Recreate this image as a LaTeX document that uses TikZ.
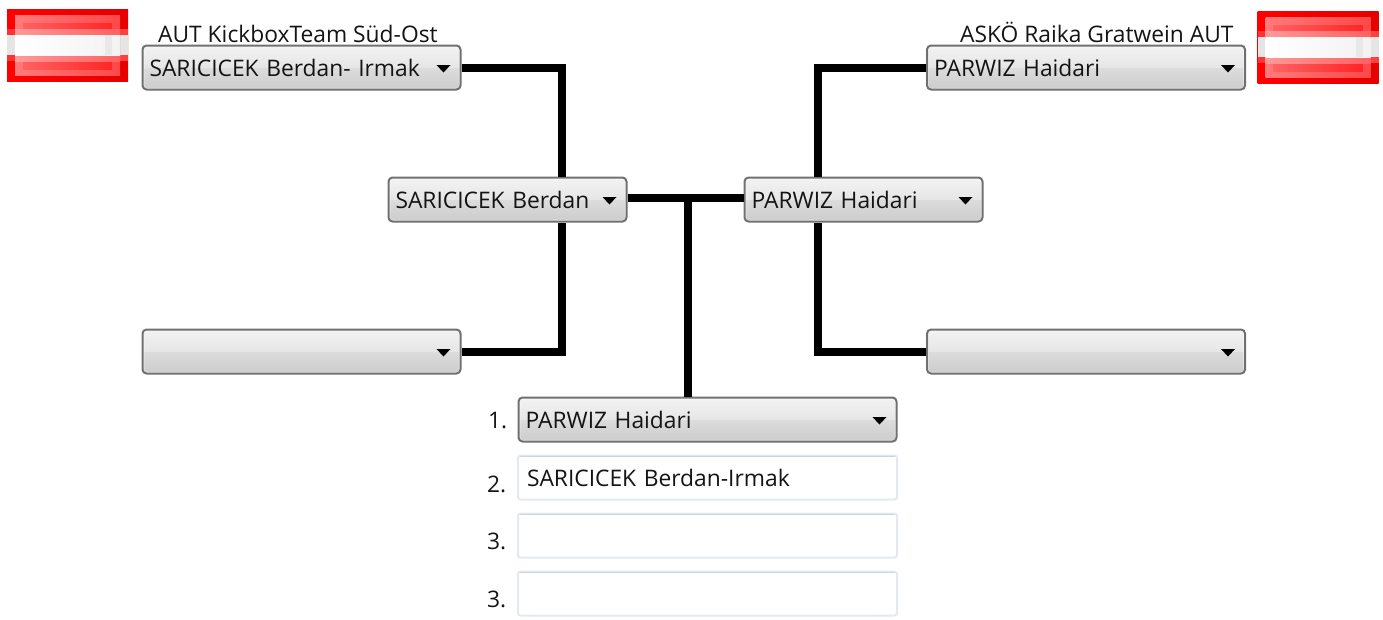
\documentclass[tikz,border=0pt]{standalone}
\usepackage{fontspec}
\setmainfont{Open Sans}
\definecolor{cba}{HTML}{CCCCCC}
\definecolor{cbb}{HTML}{DCDCDC}
\definecolor{cbc}{HTML}{E6E6E6}
\definecolor{cbd}{HTML}{F3F3F3}
\definecolor{edgeside}{HTML}{E3E9EF}
\definecolor{edgetop}{HTML}{ABADB3}
\pgfdeclareverticalshading{comboshade}{100bp}{color(0bp)=(cba); color(25bp)=(cba); color(49.9bp)=(cbb); color(50bp)=(cbc); color(75bp)=(cbd); color(100bp)=(cbd)}
\tikzset{
  every node/.style={font=\fontsize{22.8}{27}\selectfont, text=black!92},
  combo/.style={draw=black!56, line width=2pt, rounded corners=4pt, shading=comboshade,
    inner sep=0pt, minimum height=44pt, minimum width=#1, text width=#1-16pt, align=left,
    text height=20pt, text depth=3pt,
    execute at begin node={\hspace*{-1pt}},
    path picture={
      \draw[white, opacity=.6, line width=3.5pt, rounded corners=3pt]
        (path picture bounding box.south west) rectangle (path picture bounding box.north east);
      \fill[black, sharp corners] ([shift={(-24pt,2.5pt)}]path picture bounding box.east) -- ++(14pt,0) -- ++(-7pt,-7.5pt) -- cycle;
    }},
  entrybox/.style={draw=edgeside, line width=2pt, rounded corners=2.5pt, fill=white,
    inner sep=0pt, minimum height=44pt, minimum width=379pt, text width=361pt, align=left,
    text height=20pt, text depth=3pt,
    path picture={
      \draw[edgetop, line width=3pt, sharp corners]
        (path picture bounding box.north west) -- (path picture bounding box.north east);
    }},
  wire/.style={line width=8pt, draw=black, line cap=butt, line join=miter},
  caption/.style={anchor=base west, inner sep=0pt}
}
\newcommand{\flagat}[2]{%
  \begin{scope}[shift={(#1,#2)}]
    \shade[left color=red, right color=red!90!black, draw=none] (0,0) rectangle (121,72);
    \fill[red!80!white] (0,20) rectangle (8,26);
    \fill[red!80!white] (0,46) rectangle (8,52);
    \fill[red!75!white] (113,20) rectangle (121,26);
    \fill[red!75!white] (113,46) rectangle (121,52);
    \fill[black!10] (0,26) rectangle (121,46);
    \shade[left color=red!52!white, right color=red!72!white] (8,6) rectangle (113,66);
    \shade[left color=red!62!white, right color=red!85!white] (16,14) rectangle (105,60);
    \shade[left color=red!40!white, right color=red!62!white] (8,20) rectangle (113,26);
    \shade[left color=red!40!white, right color=red!62!white] (8,46) rectangle (113,52);
    \shade[left color=white, right color=black!5] (8,26) rectangle (113,46);
    \fill[black!9] (98,26) rectangle (105,46);
  \end{scope}}
\begin{document}
\begin{tikzpicture}[x=1pt,y=-1pt]
\useasboundingbox (0,0) rectangle (1383,619);
\flagat{7}{9}
\flagat{1257.5}{11}

\node[combo=318pt] (la) at (301.5,67.5) {SARICICEK Berdan- Irmak};
\node[combo=318pt] (lb) at (301.5,351.5) {};
\node[combo=238pt] (cl) at (507.5,199.5) {SARICICEK Berdan};
\node[combo=238pt] (cr) at (863.5,199.5) {PARWIZ Haidari};
\node[combo=318pt] (ra) at (1086,67.5) {PARWIZ Haidari};
\node[combo=318pt] (rb) at (1086,351.5) {};
\node[combo=378pt] (win) at (707.5,419.5) {PARWIZ Haidari};

\coordinate (lj) at (561.5,199);
\coordinate (rj) at (818,199);
\coordinate (mj) at (687.5,198);

\node[entrybox] (sec) at (707.5,477.5) {SARICICEK Berdan-Irmak};
\node[entrybox] (thi) at (707.5,535.5) {};
\node[entrybox] (fou) at (707.5,593.5) {};

\node[caption] (capl) at (158,42) {AUT KickboxTeam Süd-Ost};
\node[caption] (capr) at (960,42) {ASKÖ Raika Gratwein AUT};
\node[caption] (n1) at (488,428) {1.};
\node[caption] (n2) at (487,492) {2.};
\node[caption] (n3) at (487,549) {3.};
\node[caption] (n4) at (487,607) {3.};

\draw[wire] (la.east) -| (cl.north -| lj);
\draw[wire] (lb.east) -| (cl.south -| lj);
\draw[wire] (ra.west) -| (cr.north -| rj);
\draw[wire] (rb.west) -| (cr.south -| rj);
\draw[wire] ([yshift=1.5pt]cl.east) -- ([yshift=1.5pt]cr.west);
\draw[wire] (mj) -- (win.north -| mj);
\end{tikzpicture}
\end{document}
